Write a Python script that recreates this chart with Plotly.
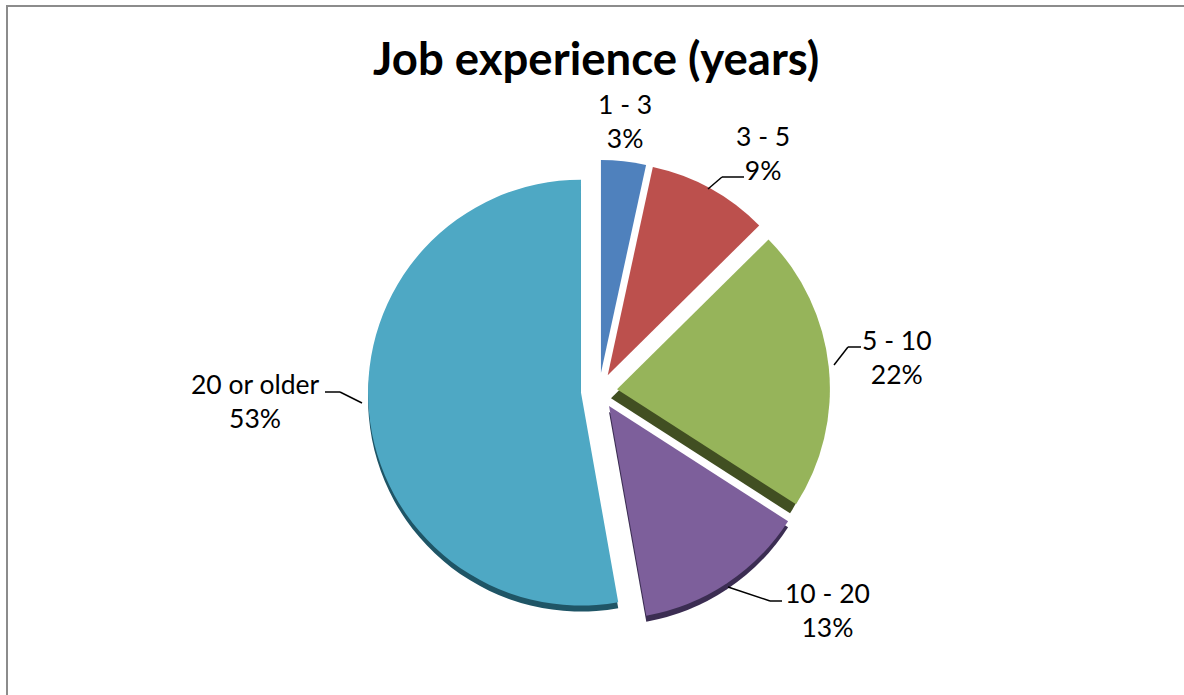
import plotly.graph_objects as go

labels = ["1 - 3", "3 - 5", "5 - 10", "10 - 20", "20 or older"]
values = [3.4, 9.2, 21.5, 13.1, 52.8]
shown = ["3%", "9%", "22%", "13%", "53%"]
colors = ["#4F81BD", "#BC504D", "#96B45A", "#7D5F9B", "#4EA8C4"]
clear = "rgba(0,0,0,0)"
shadow_thick = [clear, clear, "#414F22", clear, clear]
shadow_thin = [clear, clear, clear, "#3B2D52", "#1F5566"]
pull = 0.085

W, H = 1184, 695
CX, CY, R = 599, 391, 231


def dom(dx, dy):
    return dict(x=[(CX + dx - R) / W, (CX + dx + R) / W],
                y=[1 - (CY + dy + R) / H, 1 - (CY + dy - R) / H])


fig = go.Figure()
for dx, dy, cols in [(-6, 9, shadow_thick), (0, 6, shadow_thin), (0, 0, colors)]:
    fig.add_trace(go.Pie(labels=labels, values=values, sort=False, direction="clockwise", rotation=0,
                         pull=pull, domain=dom(dx, dy), textinfo="none", showlegend=False,
                         hoverinfo="skip" if dy else "label+percent",
                         marker=dict(colors=cols, line=dict(width=0))))

label_pos = [(625, 121), (763, 153), (897, 357), (827, 610), (255, 401)]
for lab, val, (x, y) in zip(labels, shown, label_pos):
    fig.add_annotation(x=x / W, y=1 - y / H, xref="paper", yref="paper", showarrow=False,
                       xanchor="center", yanchor="middle",
                       text=f"{lab}<br>{val}", align="center",
                       font=dict(family="Lato", size=26.5, color="#000"))

leaders = [
    [(708, 189), (722, 177), (744, 177)],
    [(834, 365), (848, 347), (861, 347)],
    [(728, 587), (770, 601), (782, 601)],
    [(362, 403), (340, 392), (325, 392)],
]
for pts in leaders:
    for (x0, y0), (x1, y1) in zip(pts, pts[1:]):
        fig.add_shape(type="line", xref="paper", yref="paper",
                      x0=x0 / W, y0=1 - y0 / H, x1=x1 / W, y1=1 - y1 / H,
                      line=dict(color="#000", width=1.5))

for x0, y0, x1, y1 in [(6, 6, 1184, 6), (7, 6, 7, 695)]:
    fig.add_shape(type="line", xref="paper", yref="paper",
                  x0=x0 / W, y0=1 - y0 / H, x1=x1 / W, y1=1 - y1 / H,
                  line=dict(color="#8C8C8C", width=2))

fig.add_annotation(x=596 / W, y=1 - 58 / H, xref="paper", yref="paper", showarrow=False,
                   xanchor="center", yanchor="middle",
                   text="<b>Job experience (years)</b>",
                   font=dict(family="Lato", size=45.5, color="#000"))

fig.update_layout(width=W, height=H, margin=dict(l=0, r=0, t=0, b=0),
                  paper_bgcolor="white", plot_bgcolor="white")
fig.write_html("out.html", config={"displayModeBar": False},
               post_script="document.body.style.margin='0';")
